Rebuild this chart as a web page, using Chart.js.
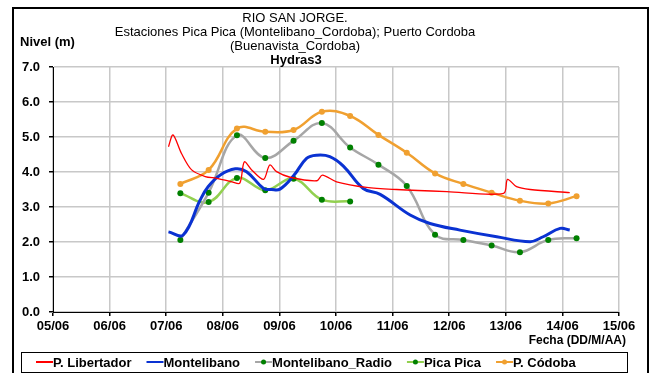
<!DOCTYPE html>
<html>
<head>
<meta charset="utf-8">
<script src="https://cdn.jsdelivr.net/npm/chart.js@4/dist/chart.umd.min.js"></script>
<style>
  html, body { margin: 0; padding: 0; background: #fff; }
  #wrap { width: 652px; height: 373px; }
</style>
</head>
<body>
<div id="wrap"><canvas id="nivel"></canvas></div>
<script>
/* ── Data (day of June, level in m) ───────────────────────────── */
const titleLines = ['RIO SAN JORGE.', 'Estaciones Pica Pica (Montelibano_Cordoba); Puerto Cordoba', '(Buenavista_Cordoba)'];
const subtitle = 'Hydras3';
const dayTicks = [5, 6, 7, 8, 9, 10, 11, 12, 13, 14, 15];

// P. Libertador (continuous record)
const libDays  = [7.04, 7.12, 7.27, 7.45, 7.69, 7.89, 8.16, 8.30, 8.38, 8.51, 8.72, 8.83, 8.95, 9.19, 9.66, 9.76, 10.01, 10.54, 11.07, 11.96, 12.96, 13.03, 13.19, 13.43, 14.13];
const libLevel = [4.72, 5.06, 4.53, 4.06, 3.87, 3.82, 3.72, 3.68, 4.29, 4.06, 3.79, 4.20, 4.01, 3.85, 3.75, 3.91, 3.72, 3.56, 3.50, 3.44, 3.39, 3.79, 3.58, 3.50, 3.41];

// Montelibano (continuous record)
const monDays  = [7.04, 7.30, 7.60, 7.74, 7.95, 8.22, 8.42, 8.72, 8.86, 9.01, 9.25, 9.48, 9.66, 9.89, 10.13, 10.48, 10.78, 11.31, 11.66, 12.19, 12.84, 13.43, 13.66, 13.96, 14.13];
const monLevel = [2.29, 2.20, 3.20, 3.58, 3.91, 4.09, 4.01, 3.53, 3.50, 3.51, 3.89, 4.39, 4.48, 4.44, 4.17, 3.53, 3.36, 2.77, 2.53, 2.34, 2.15, 2.01, 2.15, 2.39, 2.34];

// twice-daily readings
const readDays    = [7.25, 7.75, 8.25, 8.75, 9.25, 9.75, 10.25, 10.75, 11.25, 11.75, 12.25, 12.75, 13.25, 13.75, 14.25];
const radioLevel  = [2.06, 3.41, 5.05, 4.40, 4.89, 5.40, 4.70, 4.21, 3.60, 2.21, 2.06, 1.90, 1.71, 2.06, 2.11];
const picaLevel   = [3.39, 3.14, 3.83, 3.48, 3.81, 3.21, 3.16];
const cordobaLevel = [3.66, 4.06, 5.24, 5.15, 5.20, 5.72, 5.60, 5.06, 4.55, 3.96, 3.66, 3.41, 3.18, 3.10, 3.31];

const pts = (xs, ys) => ys.map((y, i) => ({ x: xs[i], y }));

/* ── Frame, titles and legend ─────────────────────────────────── */
const FONT = '"Liberation Sans", Arial, sans-serif';

const decor = {
    id: 'decor',
    beforeDraw(chart) {
        const { ctx, width, height } = chart;
        ctx.save();
        ctx.fillStyle = '#fff';
        ctx.fillRect(0, 0, width, height);
        ctx.restore();
    },
    afterDraw(chart) {
        const { ctx } = chart;
        ctx.save();

        // outer frame
        ctx.strokeStyle = '#000';
        ctx.lineWidth = 2;
        ctx.strokeRect(13, 8, 635, 380);

        // titles
        ctx.fillStyle = '#000';
        ctx.textAlign = 'center';
        ctx.textBaseline = 'middle';
        ctx.font = `13px ${FONT}`;
        titleLines.forEach((t, i) => ctx.fillText(t, 295, 18 + i * 14));
        ctx.font = `bold 13px ${FONT}`;
        ctx.fillText(subtitle, 296, 60);

        ctx.textAlign = 'left';
        ctx.fillText('Nivel (m)', 20, 42);
        ctx.textAlign = 'right';
        ctx.font = `bold 12px ${FONT}`;
        ctx.fillText('Fecha (DD/M/AA)', 626, 341);

        // legend box
        ctx.strokeStyle = '#000';
        ctx.lineWidth = 1;
        ctx.strokeRect(21.5, 352.5, 606, 20);
        ctx.font = `bold 13px ${FONT}`;
        ctx.textAlign = 'left';
        let x = 36;
        const y = 362;
        chart.data.datasets.forEach(ds => {
            ctx.strokeStyle = ds.borderColor;
            ctx.lineWidth = 2;
            ctx.beginPath();
            ctx.moveTo(x, y);
            ctx.lineTo(x + 17, y);
            ctx.stroke();
            if (ds.pointRadius > 0) {
                ctx.fillStyle = ds.pointBackgroundColor;
                ctx.beginPath();
                ctx.arc(x + 8.5, y, 2.5, 0, Math.PI * 2);
                ctx.fill();
            }
            ctx.fillStyle = '#000';
            ctx.fillText(ds.label, x + 17, y + 1);
            x += 17 + ctx.measureText(ds.label).width + 15;
        });
        ctx.restore();
    }
};

const line = (label, data, color, width, opts = {}) => Object.assign({
    label, data,
    borderColor: color,
    backgroundColor: color,
    borderWidth: width,
    pointRadius: 0,
    tension: 0.4,
    fill: false,
}, opts);

new Chart(document.getElementById('nivel'), {
    type: 'line',
    data: {
        datasets: [
            line('P. Libertador', pts(libDays, libLevel), '#ff0000', 1.3, { tension: 0.3 }),
            line('Montelibano', pts(monDays, monLevel), '#0a32d2', 3),
            line('Montelibano_Radio', pts(readDays, radioLevel), '#a6a6a6', 2.5,
                { pointRadius: 3, pointBackgroundColor: '#008000', pointBorderWidth: 0 }),
            line('Pica Pica', pts(readDays, picaLevel), '#92d050', 2.5,
                { pointRadius: 3, pointBackgroundColor: '#008000', pointBorderWidth: 0 }),
            line('P. Códoba', pts(readDays, cordobaLevel), '#f0a030', 2.5,
                { pointRadius: 3, pointBackgroundColor: '#f0a030', pointBorderWidth: 0 }),
        ],
    },
    options: {
        responsive: true,
        maintainAspectRatio: false,
        animation: false,
        layout: { padding: { left: 0, right: 33, top: 67, bottom: 0 } },
        plugins: { legend: { display: false }, title: { display: false }, tooltip: { enabled: false } },
        scales: {
            x: {
                type: 'linear', min: 5, max: 15,
                afterBuildTicks: s => { s.ticks = dayTicks.map(v => ({ value: v })); },
                afterFit: s => { s.height = 61; },
                ticks: {
                    color: '#000', padding: 3,
                    font: { family: FONT, size: 13, weight: 'bold' },
                    callback: v => String(v).padStart(2, '0') + '/06',
                },
                grid: { color: '#c8c8c8', lineWidth: 1.5, tickColor: '#000', tickLength: 4 },
                border: { color: '#000', width: 1 },
            },
            y: {
                min: 0, max: 7,
                afterFit: s => { s.width = 53; },
                ticks: {
                    stepSize: 0.5, color: '#000', padding: 9,
                    font: { family: FONT, size: 13, weight: 'bold' },
                    callback: v => Number.isInteger(v) ? v.toFixed(1) : '',
                },
                grid: {
                    color: '#c8c8c8', lineWidth: 1.5, tickLength: 4,
                    tickColor: c => Number.isInteger(c.tick.value) ? '#000' : 'rgba(0,0,0,0)',
                },
                border: { color: '#000', width: 1 },
            },
        },
    },
    plugins: [decor],
});
</script>
</body>
</html>
